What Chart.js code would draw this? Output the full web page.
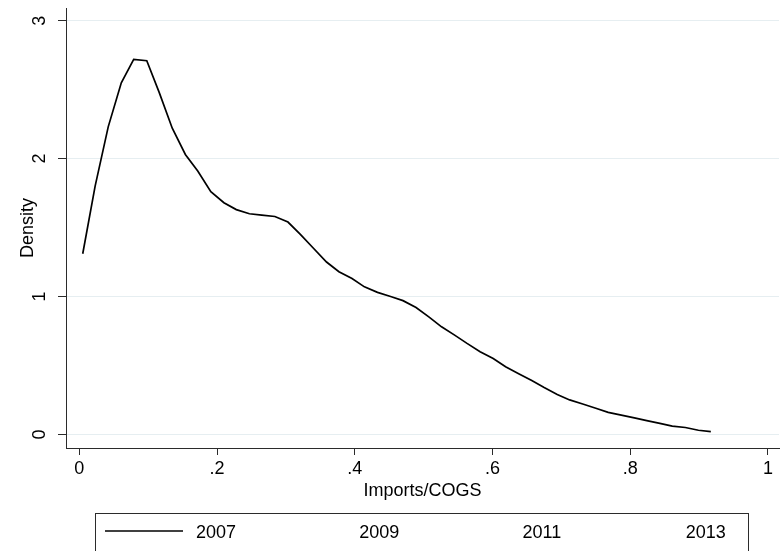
<!DOCTYPE html>
<html>
<head>
<meta charset="utf-8">
<title>Imports/COGS density</title>
<script src="https://cdn.jsdelivr.net/npm/chart.js@4.4.1/dist/chart.umd.min.js"></script>
<style>
  html, body { margin: 0; padding: 0; background: #fff; }
  #wrap { width: 780px; height: 551px; position: relative; }
</style>
</head>
<body>
<div id="wrap"><canvas id="chart"></canvas></div>
<script>
const YEARS = ["2007", "2009", "2011", "2013"];

const importShare = [
  0.005, 0.023, 0.042, 0.061, 0.079, 0.098, 0.116, 0.135, 0.154, 0.172,
  0.191, 0.210, 0.228, 0.247, 0.265, 0.284, 0.303, 0.321, 0.340, 0.359,
  0.377, 0.396, 0.414, 0.433, 0.452, 0.470, 0.489, 0.508, 0.526, 0.545,
  0.563, 0.582, 0.601, 0.619, 0.638, 0.657, 0.675, 0.694, 0.712, 0.731,
  0.750, 0.768, 0.787, 0.806, 0.824, 0.843, 0.861, 0.880, 0.899, 0.917
];

const density2007 = [
  1.31, 1.80, 2.23, 2.55, 2.72, 2.71, 2.48, 2.22, 2.03, 1.91,
  1.76, 1.68, 1.63, 1.60, 1.59, 1.58, 1.54, 1.45, 1.35, 1.25,
  1.18, 1.13, 1.07, 1.03, 1.00, 0.97, 0.92, 0.85, 0.78, 0.72,
  0.66, 0.60, 0.55, 0.49, 0.44, 0.39, 0.34, 0.29, 0.25, 0.22,
  0.19, 0.16, 0.14, 0.12, 0.10, 0.08, 0.06, 0.05, 0.03, 0.02
];

const xTicks = [0, 0.2, 0.4, 0.6, 0.8, 1];
const xTickLabels = ["0", ".2", ".4", ".6", ".8", "1"];
const yTicks = [0, 1, 2, 3];
const yTickLabels = ["0", "1", "2", "3"];

const FONT = "'Liberation Sans', Arial, Helvetica, sans-serif";
const AXIS_COLOR = "#2b2b2b";
const GRID_COLOR = "#e6eef1";
const LINE_COLORS = ["#000000", "#ffffff", "#ffffff", "#ffffff"];

Chart.defaults.font.family = FONT;
Chart.defaults.color = "#000";

const datasets = YEARS.map((year, i) => ({
  label: year,
  data: i === 0 ? importShare.map((x, k) => ({ x: x, y: density2007[k] })) : [],
  borderColor: LINE_COLORS[i],
  borderWidth: 1.7,
  pointRadius: 0,
  tension: 0,
  fill: false
}));

// Stata-like extras: rotated y labels, axis titles, boxed legend
const stataDecor = {
  id: "stataDecor",
  afterDraw(chart) {
    const ctx = chart.ctx;
    const yScale = chart.scales.y;
    const area = chart.chartArea;

    ctx.save();
    ctx.fillStyle = "#000";
    ctx.font = "18px " + FONT;
    ctx.textAlign = "center";
    ctx.textBaseline = "alphabetic";

    yTicks.forEach((v, i) => {
      const py = yScale.getPixelForValue(v);
      ctx.save();
      ctx.translate(45, py);
      ctx.rotate(-Math.PI / 2);
      ctx.fillText(yTickLabels[i], 0, 0);
      ctx.restore();
    });

    ctx.save();
    ctx.translate(33, (area.top + area.bottom) / 2);
    ctx.rotate(-Math.PI / 2);
    ctx.fillText("Density", 0, 0);
    ctx.restore();

    ctx.fillText("Imports/COGS", (area.left + area.right) / 2, 496);

    // legend box
    const boxL = 95, boxR = 748, boxT = 513;
    ctx.strokeStyle = AXIS_COLOR;
    ctx.lineWidth = 1;
    ctx.strokeRect(boxL + 0.5, boxT + 0.5, boxR - boxL, 60);

    const colW = (boxR - boxL) / YEARS.length;
    chart.data.datasets.forEach((ds, i) => {
      const x0 = boxL + colW * i;
      ctx.strokeStyle = ds.borderColor;
      ctx.lineWidth = ds.borderWidth;
      ctx.beginPath();
      ctx.moveTo(x0 + 10, 531);
      ctx.lineTo(x0 + 88, 531);
      ctx.stroke();
      ctx.textAlign = "left";
      ctx.fillText(ds.label, x0 + 101, 537.5);
    });
    ctx.restore();
  }
};

new Chart(document.getElementById("chart"), {
  type: "line",
  data: { datasets },
  options: {
    responsive: true,
    maintainAspectRatio: false,
    animation: false,
    layout: { padding: { top: 8, right: 1, left: 0, bottom: 0 } },
    plugins: {
      legend: { display: false },
      tooltip: { enabled: false }
    },
    scales: {
      x: {
        type: "linear",
        min: -0.0193,
        max: 1.016,
        afterBuildTicks: (scale) => {
          scale.ticks = xTicks.map(v => ({ value: v }));
        },
        afterFit: (scale) => { scale.height = 103; },
        ticks: {
          autoSkip: false,
          maxRotation: 0,
          minRotation: 0,
          padding: 3,
          color: "#000",
          font: { size: 18 },
          callback: (value) => xTickLabels[xTicks.indexOf(value)]
        },
        grid: {
          drawOnChartArea: false,
          drawTicks: true,
          tickLength: 7,
          tickColor: AXIS_COLOR
        },
        border: { display: true, color: AXIS_COLOR, width: 1 }
      },
      y: {
        type: "linear",
        min: -0.0986,
        max: 3.092,
        afterBuildTicks: (scale) => {
          scale.ticks = yTicks.map(v => ({ value: v }));
        },
        afterFit: (scale) => { scale.width = 66; },
        ticks: { display: false },
        grid: {
          color: GRID_COLOR,
          lineWidth: 1,
          drawTicks: true,
          tickLength: 8,
          tickColor: AXIS_COLOR
        },
        border: { display: true, color: AXIS_COLOR, width: 1 }
      }
    }
  },
  plugins: [stataDecor]
});
</script>
</body>
</html>
